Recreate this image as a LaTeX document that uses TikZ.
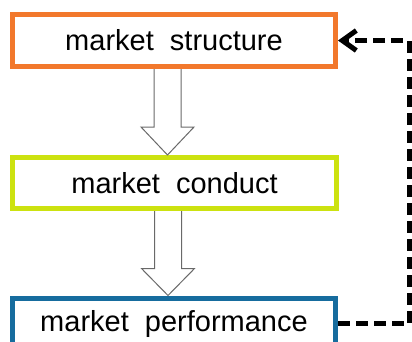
\documentclass[tikz,border=0pt]{standalone}
\usepackage{fontspec}
\setmainfont{Liberation Sans}
\usetikzlibrary{arrows.meta,calc}

\definecolor{structorange}{RGB}{242,120,44}
\definecolor{conductlime}{RGB}{204,226,16}
\definecolor{perfblue}{RGB}{22,108,158}
\definecolor{arrowgray}{RGB}{105,105,105}

\tikzset{
  stage/.style={draw, line width=5pt, fill=white, rectangle,
    minimum width=323pt, inner sep=0pt,
    font=\fontsize{29}{32}\selectfont},
  blockarrow/.style={draw=arrowgray, line width=1pt, fill=white,
    line join=miter},
  feedback/.style={line width=5pt, dash pattern=on 12pt off 6pt,
    -{Straight Barb[length=14pt,width=20pt,line width=5pt]}}
}

% Hollow block arrow from the bottom of #1 to the top of #2
\newcommand{\hollowarrow}[3]{%
  \draw[blockarrow] let \p1=(#1.south), \p2=(#2.north) in
    (\x1-20pt,\y1) -- (\x1-20pt,\y2+#3) -- (\x1-33pt,\y2+#3)
    -- (\x1-6.5pt,\y2) -- (\x1+20pt,\y2+#3) -- (\x1+7pt,\y2+#3)
    -- (\x1+7pt,\y1);%
}

\begin{document}
\begin{tikzpicture}[x=1pt,y=-1pt]
  \clip (0,0) rectangle (412,341);
  \fill[white] (0,0) rectangle (412,341);

  \node[stage, draw=structorange, minimum height=52pt] (s) at (174,40.5)
    {market~~structure};
  \node[stage, draw=conductlime, minimum height=51pt, minimum width=324pt]
    (c) at (174.5,183) {market~~conduct};
  \node[stage, draw=perfblue, minimum height=53pt, anchor=north] (p)
    at (174,295.5) {};
  \node[font=\fontsize{29}{32}\selectfont] (pt) at (174,323.5)
    {market~~performance};

  \hollowarrow{s}{c}{28pt}
  \hollowarrow{c}{p}{27pt}

  \draw[feedback] (p.east |- pt) -- ++(71,0) |- (s.east);
\end{tikzpicture}
\end{document}
